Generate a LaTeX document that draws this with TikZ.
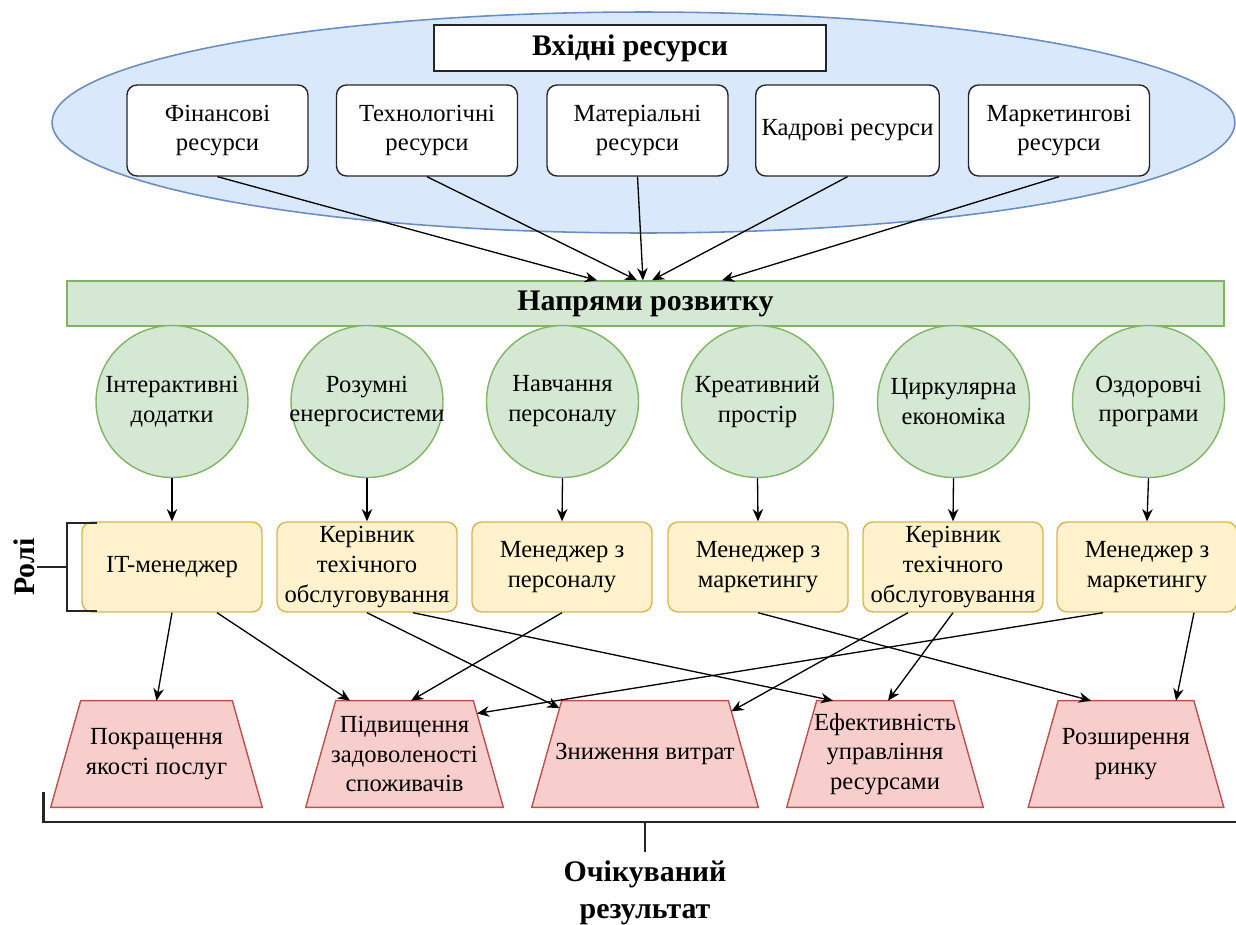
\documentclass[tikz,border=0pt]{standalone}
\usepackage{fontspec}
\setmainfont{Liberation Serif}
\usetikzlibrary{shapes.geometric,arrows.meta,calc,backgrounds}

\definecolor{bluefill}{HTML}{DAE8FC}
\definecolor{blueline}{HTML}{6C8EBF}
\definecolor{greenfill}{HTML}{D5E8D4}
\definecolor{greenline}{HTML}{82B366}
\definecolor{yellowfill}{HTML}{FFF2CC}
\definecolor{yellowline}{HTML}{D6B656}
\definecolor{redfill}{HTML}{F8CECC}
\definecolor{redline}{HTML}{B85450}

\tikzset{
  txt/.style={font=\fontsize{14}{17}\selectfont, align=center},
  head/.style={font=\fontsize{17}{21}\selectfont\bfseries, align=center},
  resbox/.style={txt, draw=black!85, fill=white, rounded corners=0.2cm, line width=0.8pt,
    minimum width=3.62cm, minimum height=1.82cm},
  dirc/.style={circle, draw=greenline, fill=greenfill, line width=0.8pt,
    minimum size=3.04cm, inner sep=0pt},
  rolebox/.style={txt, draw=yellowline, fill=yellowfill, rounded corners=0.2cm, line width=0.8pt,
    minimum width=3.6cm, minimum height=1.8cm, inner sep=1pt},
  outc/.style={txt, minimum height=2.12cm, inner sep=1pt},
  trapfill/.style={draw=redline, fill=redfill, line width=0.8pt},
  arr/.style={-{Stealth[length=7pt,width=6pt]}, line width=0.75pt},
  brk/.style={line width=1.6pt, black!85},
}

\begin{document}
\begin{tikzpicture}[x=0.02cm, y=-0.02cm]
  \useasboundingbox (0,0) rectangle (1236,924);

  \node (inres) at (643.5,122.5) [ellipse, draw=blueline, fill=bluefill, line width=0.9pt,
    minimum width=23.66cm, minimum height=4.42cm, inner sep=0pt] {};
  \node (title) at (630,48) [draw=black!85, fill=white, line width=0.8pt,
    minimum width=7.84cm, minimum height=0.92cm, font=\fontsize{17}{20}\selectfont\bfseries] {Вхідні ресурси};

  \node (fin)  at (217.5,130.5) [resbox] {Фінансові\\ресурси};
  \node (tech) at (427,130.5)   [resbox] {Технологічні\\ресурси};
  \node (mat)  at (637.5,130.5) [resbox] {Матеріальні\\ресурси};
  \node (kadr) at (847.5,130.5) [resbox] {Кадрові ресурси};
  \node (mark) at (1059,130.5)  [resbox] {Маркетингові\\ресурси};

  \node (bar) at (645.5,303.5) [draw=greenline, fill=greenfill, line width=0.8pt,
    minimum width=23.14cm, minimum height=0.9cm, head] {Напрями розвитку};

  \draw[arr] (fin.south)  -- ($(bar.north)+(-48.5,0)$);
  \draw[arr] (tech.south) -- ($(bar.north)+(-8.5,0)$);
  \draw[arr] (mat.south)  -- ($(bar.north)+(-2.5,0)$);
  \draw[arr] (kadr.south) -- ($(bar.north)+(6.5,0)$);
  \draw[arr] (mark.south) -- ($(bar.north)+(76.5,0)$);

  \node (d1) at (172,401.5)   [dirc, label={[txt]center:Інтерактивні\\додатки}] {};
  \node (d2) at (367,401.5)   [dirc, label={[txt]center:Розумні\\енергосистеми}] {};
  \node (d3) at (562.5,401.5) [dirc, label={[txt]center:Навчання\\персоналу}] {};
  \node (d4) at (757.5,401.5) [dirc, label={[txt]center:Креативний\\простір}] {};
  \node (d5) at (953.5,401.5) [dirc, label={[txt]center:Циркулярна\\економіка}] {};
  \node (d6) at (1148.5,401.5)[dirc, label={[txt]center:Оздоровчі\\програми}] {};

  \node (r1) at (172,567)  [rolebox] {IT-менеджер};
  \node (r2) at (367,567)  [rolebox] {Керівник\\техічного\\обслуговування};
  \node (r3) at (562,567)  [rolebox] {Менеджер з\\персоналу};
  \node (r4) at (758,567)  [rolebox] {Менеджер з\\маркетингу};
  \node (r5) at (953,567)  [rolebox] {Керівник\\техічного\\обслуговування};
  \node (r6) at (1147,567) [rolebox] {Менеджер з\\маркетингу};

  \draw[arr] (d1.south) -- (r1.north);
  \draw[arr] (d2.south) -- (r2.north);
  \draw[arr] (d3.south) -- (r3.north);
  \draw[arr] (d4.south) -- (r4.north);
  \draw[arr] (d5.south) -- (r5.north);
  \draw[arr] (d6.south) -- (r6.north);

  \draw[brk] (97,523) -- (67,523) -- (67,611) -- (97,611);
  \draw[brk] (37,567) -- (67,567);
  \node (roles) at (24,567) [head, rotate=90] {Ролі};

  \node (o1) at (156.5,754) [outc, minimum width=4.22cm] {Покращення\\якості послуг};
  \node (o2) at (404.5,754) [outc, minimum width=3.94cm] {Підвищення\\задоволеності\\споживачів};
  \node (o3) at (645,754)   [outc, minimum width=4.52cm] {Зниження витрат};
  \node (o4) at (885,754)   [outc, minimum width=3.92cm] {Ефективність\\управління\\ресурсами};
  \node (o5) at (1126,754)  [outc, minimum width=3.9cm]  {Розширення\\ринку};

  \begin{scope}[on background layer]
    \foreach \i in {1,...,5} {
      \coordinate (o\i-tl) at ($(o\i.north west)+(30,0)$);
      \coordinate (o\i-tr) at ($(o\i.north east)+(-30,0)$);
      \filldraw[trapfill] (o\i.south west) -- (o\i-tl) -- (o\i-tr) -- (o\i.south east) -- cycle;
    }
  \end{scope}

  \draw[arr] (r1.south) -- (o1.north);
  \draw[arr] ($(r1.south)+(45,0)$) -- ($(o2.north)+(-54.5,0)$);
  \draw[arr] (r3.south) -- ($(o2.north)+(6.5,0)$);
  \draw[arr] ($(r6.south)+(-44,0)$) -- ($(o2-tr)!0.12!(o2.south east)$);
  \draw[arr] (r2.south) -- ($(o3-tl)!0.07!(o3.south west)$);
  \draw[arr] ($(r2.south)+(46,0)$) -- ($(o4.north)+(-52,0)$);
  \draw[arr] (r4.south) -- ($(o5.north)+(-35,0)$);
  \draw[arr] ($(r5.south)+(-45,0)$) -- ($(o3-tr)!0.1!(o3.south east)$);
  \draw[arr] (r5.south) -- ($(o4.north)+(3,0)$);
  \draw[arr] ($(r6.south)+(47,0)$) -- ($(o5.north)+(50,0)$);

  \draw[brk] (43.5,792) -- (43.5,822) -- (1236,822);
  \draw[brk] (645,822) -- (645,852);
  \node (result) at (645,893) [head] {Очікуваний\\результат};
\end{tikzpicture}
\end{document}
